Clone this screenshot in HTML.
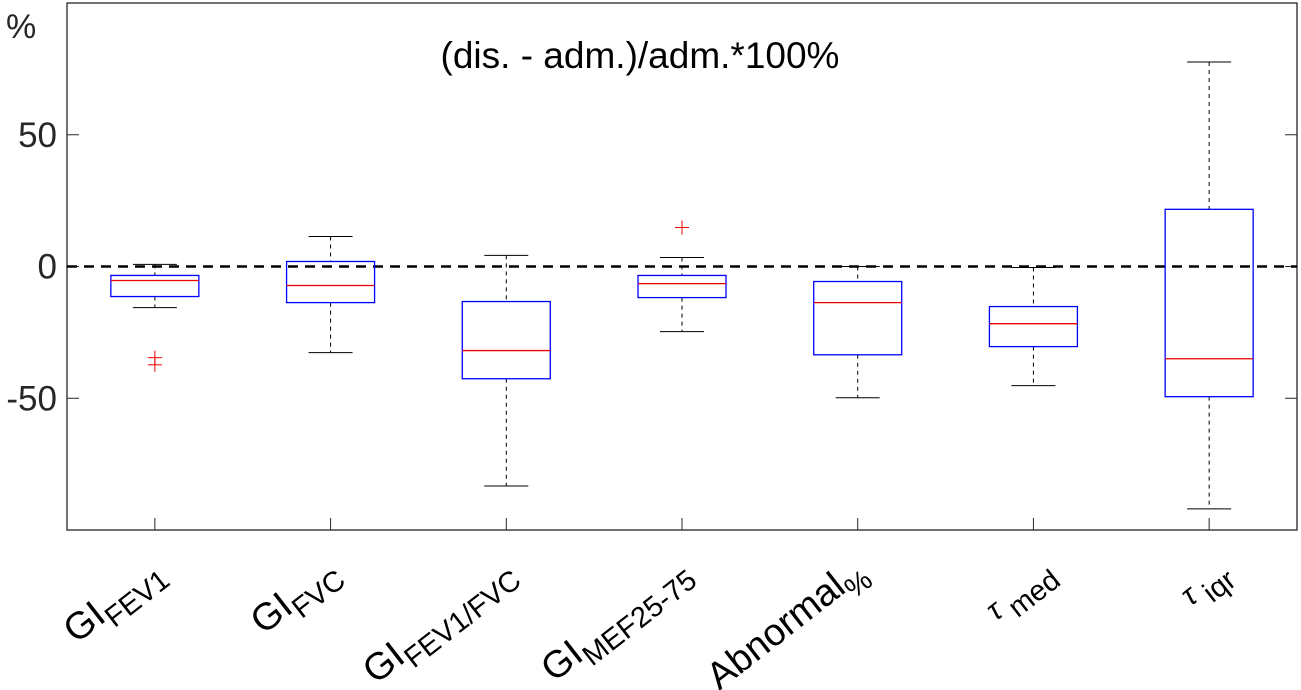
<!DOCTYPE html>
<html><head><meta charset="utf-8"><style>body{margin:0;background:#fff}svg{display:block;font-family:"Liberation Sans",Arial,sans-serif}</style></head>
<body>
<svg id="c" width="1301" height="690" xmlns="http://www.w3.org/2000/svg"></svg>
<script>
const categories=["GI|FEV1","GI|FVC","GI|FEV1/FVC","GI|MEF25-75","Abnormal|%","τ| med","τ| iqr"];
const whiskerHigh=[0.8,11.4,4.2,3.4,0,-0.4,77.6];
const q3=[-3.4,1.9,-13.3,-3.4,-5.7,-15.2,21.7];
const median=[-5.3,-7.2,-31.9,-6.5,-13.7,-21.7,-35];
const q1=[-11.4,-13.7,-42.6,-11.8,-33.5,-30.4,-49.4];
const whiskerLow=[-15.6,-32.7,-83.3,-24.7,-49.8,-45.2,-92];
const outliers=[[-34.6,-37.3],[],[],[14.8],[],[],[]];
const yTicks=[-50,0,50];
const L=67,R=1297,T=3,B=530;
const xs=i=>L+(i+0.5)*(R-L)/categories.length;
const ys=v=>B-(v+100)/200*(B-T);
const svg=document.getElementById('c');const NS="http://www.w3.org/2000/svg";
function mk(t,a,p){const e=document.createElementNS(NS,t);for(const k in a)e.setAttribute(k,a[k]);(p||svg).appendChild(e);return e;}
let e=mk('rect',{x:L,y:T,width:R-L,height:B-T,fill:'none',stroke:'#262626','stroke-width':1.3});


yTicks.forEach(v=>{mk('line',{x1:L,x2:L+12,y1:ys(v),y2:ys(v),stroke:'#262626'});mk('line',{x1:R,x2:R-12,y1:ys(v),y2:ys(v),stroke:'#262626'});
let t=mk('text',{x:57,y:ys(v)+12,'text-anchor':'end','font-size':35,fill:'#262626'});t.textContent=v;

});
e=mk('line',{x1:L,x2:R,y1:ys(0),y2:ys(0),stroke:'#000','stroke-width':2.5,'stroke-dasharray':'10,7'});


categories.forEach((c,i)=>{const x=xs(i),w=88,cw=44;
const g=mk('g',{});


mk('line',{x1:x,x2:x,y1:ys(whiskerHigh[i]),y2:ys(q3[i]),stroke:'#000','stroke-dasharray':'4,4'},g);
mk('line',{x1:x,x2:x,y1:ys(q1[i]),y2:ys(whiskerLow[i]),stroke:'#000','stroke-dasharray':'4,4'},g);
mk('line',{x1:x-cw/2,x2:x+cw/2,y1:ys(whiskerHigh[i]),y2:ys(whiskerHigh[i]),stroke:'#000'},g);
mk('line',{x1:x-cw/2,x2:x+cw/2,y1:ys(whiskerLow[i]),y2:ys(whiskerLow[i]),stroke:'#000'},g);
mk('rect',{x:x-w/2,y:ys(q3[i]),width:w,height:ys(q1[i])-ys(q3[i]),fill:'none',stroke:'#00f','stroke-width':1.3},g);
mk('line',{x1:x-w/2,x2:x+w/2,y1:ys(median[i]),y2:ys(median[i]),stroke:'#e00','stroke-width':1.3},g);
outliers[i].forEach(o=>{mk('line',{x1:x-7,x2:x+7,y1:ys(o),y2:ys(o),stroke:'#e00'},g);mk('line',{x1:x,x2:x,y1:ys(o)-7,y2:ys(o)+7,stroke:'#e00'},g);});
mk('line',{x1:x,x2:x,y1:B,y2:B-12,stroke:'#262626'});
const [m,s]=c.split('|');
const tau=m==='τ';
const t=mk('text',{transform:`translate(${x+(tau?22:10)},${B+45}) rotate(-38)`,'text-anchor':'end','font-size':38,fill:'#000'});


const a=mk('tspan',{'font-style':tau?'italic':'normal','font-size':tau?30:38},t);a.textContent=m;
const b=mk('tspan',{'font-size':29,dy:11},t);b.textContent=s;
});
e=mk('text',{x:640,y:68,'text-anchor':'middle','font-size':37,fill:'#000'});e.textContent='(dis. - adm.)/adm.*100%';


e=mk('text',{x:6,y:38,'font-size':34,fill:'#262626'});e.textContent='%';


</script>
</body></html>
